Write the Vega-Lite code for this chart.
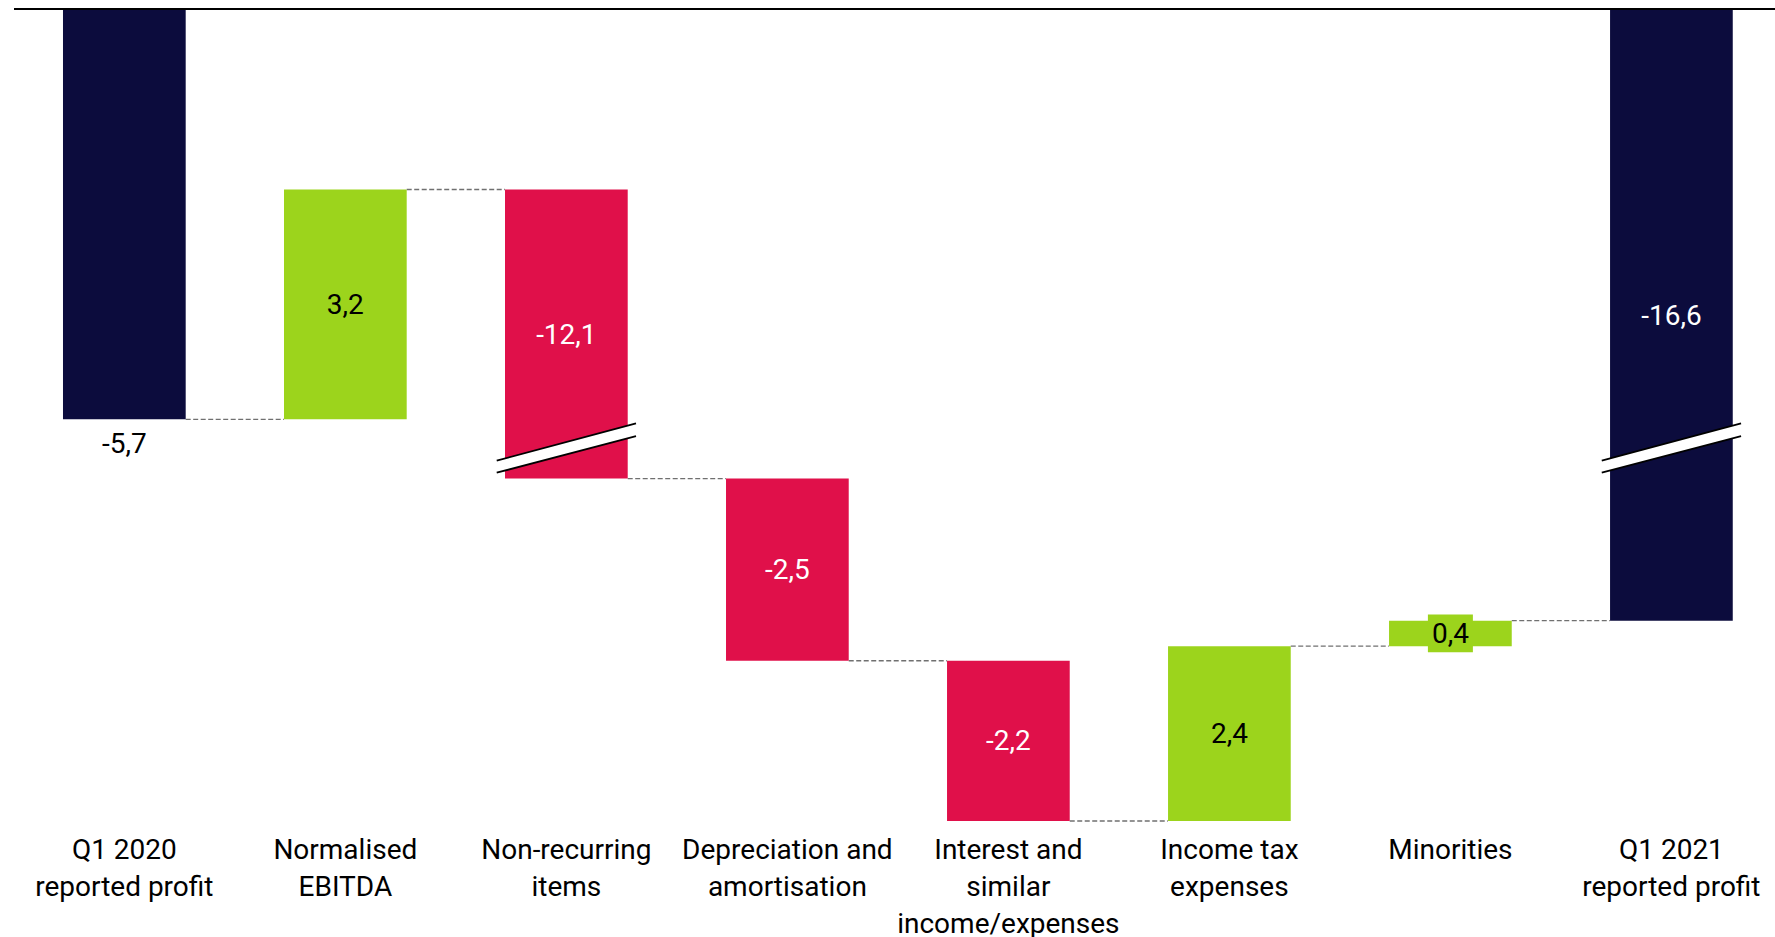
{
  "$schema": "https://vega.github.io/schema/vega-lite/v6.json",
  "width": 1761,
  "height": 821,
  "autosize": "none",
  "padding": {"left": 14, "top": 10, "right": 0, "bottom": 106},
  "background": "white",
  "config": {
    "font": "Roboto",
    "view": {"stroke": null},
    "locale": {"number": {"decimal": ",", "thousands": ".", "grouping": [3], "currency": ["", " €"], "minus": "-"}}
  },
  "data": {"values": [
    {"category": "Q1 2020\nreported profit", "next": "Normalised\nEBITDA", "start": 0, "end": -5.7, "value": -5.7, "type": "total", "broken": false},
    {"category": "Normalised\nEBITDA", "next": "Non-recurring\nitems", "start": -5.7, "end": -2.5, "value": 3.2, "type": "increase", "broken": false},
    {"category": "Non-recurring\nitems", "next": "Depreciation and\namortisation", "start": -2.5, "end": -14.6, "value": -12.1, "type": "decrease", "broken": true},
    {"category": "Depreciation and\namortisation", "next": "Interest and\nsimilar\nincome/expenses", "start": -14.6, "end": -17.1, "value": -2.5, "type": "decrease", "broken": false},
    {"category": "Interest and\nsimilar\nincome/expenses", "next": "Income tax\nexpenses", "start": -17.1, "end": -19.3, "value": -2.2, "type": "decrease", "broken": false},
    {"category": "Income tax\nexpenses", "next": "Minorities", "start": -19.3, "end": -16.9, "value": 2.4, "type": "increase", "broken": false},
    {"category": "Minorities", "next": "Q1 2021\nreported profit", "start": -16.9, "end": -16.55, "value": 0.4, "type": "increase", "broken": false},
    {"category": "Q1 2021\nreported profit", "next": null, "start": 0, "end": -16.55, "value": -16.6, "type": "total", "broken": true}
  ]},
  "layer": [
    {
      "transform": [{"filter": "datum.next != null"}],
      "mark": {"type": "rule", "stroke": "#707070", "strokeWidth": 1.3, "strokeDash": [5, 2.5]},
      "encoding": {
        "x": {"field": "category", "type": "nominal", "bandPosition": 1},
        "x2": {"field": "next", "bandPosition": 0},
        "y": {"field": "end", "type": "quantitative", "axis": null}
      }
    },
    {
      "mark": {"type": "bar"},
      "encoding": {
        "x": {
          "field": "category", "type": "nominal",
          "scale": {
            "domain": ["Q1 2020\nreported profit", "Normalised\nEBITDA", "Non-recurring\nitems", "Depreciation and\namortisation", "Interest and\nsimilar\nincome/expenses", "Income tax\nexpenses", "Minorities", "Q1 2021\nreported profit"],
            "paddingInner": 0.4448, "paddingOuter": 0.2064, "align": 0.537
          },
          "axis": {
            "title": null, "orient": "bottom", "domain": false, "ticks": false, "tickSize": 0,
            "labelAngle": 0, "labelAlign": "center", "labelFont": "Roboto", "labelFontSize": 28, "labelColor": "#000000",
            "labelLineHeight": 37, "labelPadding": 5, "labelLimit": 400, "labelBaseline": "top",
            "labelExpr": "split(datum.value, '\\n')"
          }
        },
        "y": {
          "field": "start", "type": "quantitative", "axis": null,
          "scale": {"domain": [0, -6.1, -14.18, -19.3], "range": [0, 438, 438, 811], "nice": false, "zero": false}
        },
        "y2": {"field": "end"},
        "color": {
          "field": "type", "type": "nominal", "legend": null,
          "scale": {"domain": ["total", "increase", "decrease"], "range": ["#0c0c3d", "#9cd41c", "#e0104a"]}
        }
      }
    },
    {
      "transform": [{"filter": "datum.broken"}],
      "mark": {"type": "point", "shape": "M-1,0.182L1,-0.355L1,-0.172L-1,0.355Z", "filled": true, "fill": "white", "strokeWidth": 0, "opacity": 1, "size": 19404},
      "encoding": {
        "x": {"field": "category", "type": "nominal"},
        "y": {"datum": -10, "type": "quantitative", "axis": null}
      }
    },
    {
      "transform": [{"filter": "datum.broken"}],
      "mark": {"type": "point", "shape": "M-1,0.182L1,-0.355M-1,0.355L1,-0.172", "filled": false, "fill": null, "stroke": "black", "strokeWidth": 1.8, "opacity": 1, "size": 19404},
      "encoding": {
        "x": {"field": "category", "type": "nominal"},
        "y": {"datum": -10, "type": "quantitative", "axis": null}
      }
    },
    {
      "transform": [{"filter": "datum.category == 'Minorities'"}],
      "mark": {"type": "point", "shape": "M-1,-0.838L1,-0.838L1,0.838L-1,0.838Z", "filled": true, "fill": "#9cd41c", "strokeWidth": 0, "opacity": 1, "size": 2025},
      "encoding": {
        "x": {"field": "category", "type": "nominal"},
        "y": {"value": {"expr": "(scale('y', datum.start) + scale('y', datum.end)) / 2"}}
      }
    },
    {
      "transform": [{"filter": "indexof(datum.category, 'Q1 2020') < 0"}],
      "mark": {"type": "text", "font": "Roboto", "fontSize": 28, "baseline": "middle", "align": "center", "dy": 1.5},
      "encoding": {
        "x": {"field": "category", "type": "nominal"},
        "y": {"value": {"expr": "(scale('y', datum.start) + scale('y', datum.end)) / 2"}},
        "text": {"field": "value", "type": "quantitative", "format": ".1f"},
        "color": {"condition": {"test": "datum.type == 'increase'", "value": "#000000"}, "value": "#ffffff"}
      }
    },
    {
      "transform": [{"filter": "indexof(datum.category, 'Q1 2020') == 0"}],
      "mark": {"type": "text", "font": "Roboto", "fontSize": 28, "baseline": "middle", "align": "center", "dy": 26, "color": "#000000"},
      "encoding": {
        "x": {"field": "category", "type": "nominal"},
        "y": {"field": "end", "type": "quantitative", "axis": null},
        "text": {"field": "value", "type": "quantitative", "format": ".1f"}
      }
    },
    {
      "mark": {"type": "rule", "stroke": "#000000", "strokeWidth": 2, "yOffset": -1},
      "encoding": {
        "y": {"datum": 0, "type": "quantitative", "axis": null}
      }
    }
  ]
}
